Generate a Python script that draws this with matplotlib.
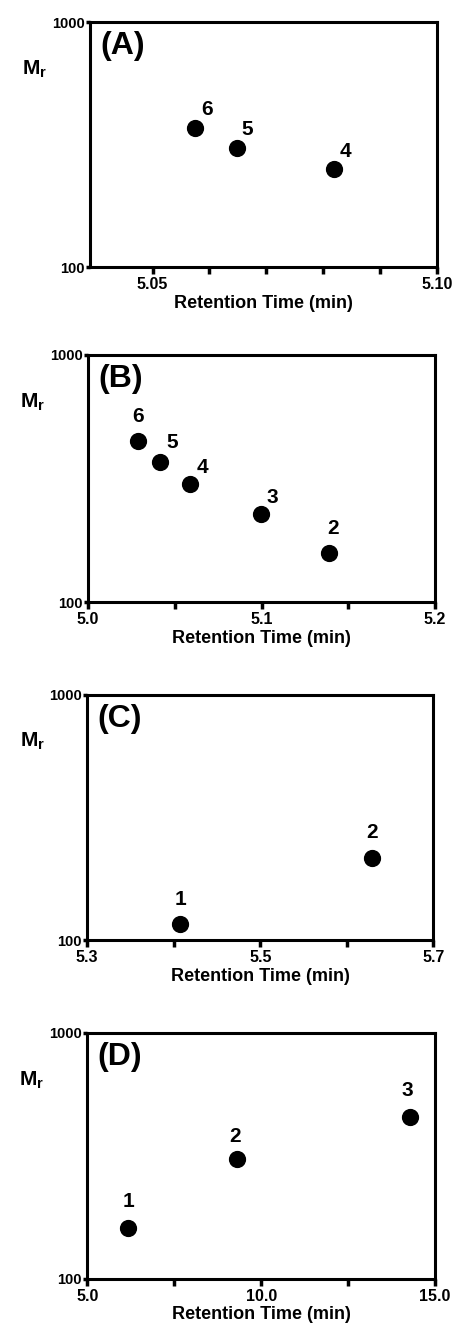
import numpy as np
import matplotlib
matplotlib.use('Agg')
import matplotlib.pyplot as plt
from matplotlib.ticker import FixedLocator, NullLocator

plt.rcParams['font.family'] = ['Liberation Sans', 'DejaVu Sans']
plt.rcParams['font.weight'] = 'bold'
plt.rcParams['mathtext.fontset'] = 'custom'
plt.rcParams['mathtext.bf'] = 'Liberation Sans:bold'
plt.rcParams['mathtext.rm'] = 'Liberation Sans:bold'

# panel data: retention time (min) vs Mr
a_time = [5.0575, 5.0649, 5.0819]
a_mr = [369, 306, 251]
a_lab = ['6', '5', '4']

b_time = [5.0288, 5.0415, 5.0590, 5.0997, 5.1390]
b_mr = [449, 369, 300, 227, 158]
b_lab = ['6', '5', '4', '3', '2']

c_time = [5.4075, 5.6295]
c_mr = [116, 216]
c_lab = ['1', '2']

d_time = [6.18, 9.31, 14.28]
d_mr = [161, 307, 456]
d_lab = ['1', '2', '3']

# axes: (left, bottom, width, height) in figure fractions
panels = [
    dict(name='(A)', t=a_time, m=a_mr, lab=a_lab, xlim=(5.039, 5.10),
         ticks=[5.05, 5.06, 5.07, 5.08, 5.09, 5.10],
         ticklabels=['5.05', '', '', '', '', '5.10'],
         off=[(12, 19), (10, 19), (11, 18)],
         box=(0.196, 0.800, 0.756, 0.1834)),
    dict(name='(B)', t=b_time, m=b_mr, lab=b_lab, xlim=(5.0, 5.2),
         ticks=[5.0, 5.05, 5.1, 5.15, 5.2],
         ticklabels=['5.0', '', '5.1', '', '5.2'],
         off=[(0, 24), (12, 19), (12, 17), (11, 17), (4, 24)],
         box=(0.192, 0.5494, 0.756, 0.1849)),
    dict(name='(C)', t=c_time, m=c_mr, lab=c_lab, xlim=(5.3, 5.7),
         ticks=[5.3, 5.4, 5.5, 5.6, 5.7],
         ticklabels=['5.3', '', '5.5', '', '5.7'],
         off=[(0, 25), (0, 26)],
         box=(0.190, 0.2964, 0.754, 0.1834)),
    dict(name='(D)', t=d_time, m=d_mr, lab=d_lab, xlim=(5.0, 15.0),
         ticks=[5.0, 7.5, 10.0, 12.5, 15.0],
         ticklabels=['5.0', '', '10.0', '', '15.0'],
         off=[(0, 27), (-2, 23), (-3, 26)],
         box=(0.190, 0.0427, 0.758, 0.1841)),
]

fig = plt.figure(figsize=(4.59, 13.36), dpi=100)

for p in panels:
    ax = fig.add_axes(p['box'])
    ax.set_yscale('log')
    ax.set_ylim(100, 1000)
    ax.set_xlim(p['xlim'])
    ax.scatter(p['t'], p['m'], s=130, color='black', zorder=3, clip_on=False)
    for t, m, s, o in zip(p['t'], p['m'], p['lab'], p['off']):
        ax.annotate(s, (t, m), xytext=o, textcoords='offset pixels',
                    ha='center', va='center', fontsize=15, fontweight='bold')

    ax.xaxis.set_major_locator(FixedLocator(p['ticks']))
    ax.set_xticklabels(p['ticklabels'])
    ax.yaxis.set_major_locator(FixedLocator([100, 1000]))
    ax.yaxis.set_minor_locator(NullLocator())
    ax.set_yticklabels(['100', '1000'])
    ax.tick_params(axis='x', direction='out', length=5, width=2.5,
                   labelsize=11.5, pad=2)
    ax.tick_params(axis='y', direction='out', length=3, width=2.5,
                   labelsize=10.5, pad=1)
    for lbl in ax.get_xticklabels() + ax.get_yticklabels():
        lbl.set_fontweight('bold')
    for sp in ax.spines.values():
        sp.set_linewidth(2.2)

    ax.set_xlabel('Retention Time (min)', fontsize=13, fontweight='bold',
                  labelpad=2)
    ax.text(0.03, 0.965, p['name'], transform=ax.transAxes, ha='left',
            va='top', fontsize=23, fontweight='bold')
    ax.text(-0.195, 0.81, r'$\mathbf{M}_\mathbf{r}$', transform=ax.transAxes,
            ha='left', va='center', fontsize=15)

fig.savefig('out.png', dpi=100, facecolor='white')
